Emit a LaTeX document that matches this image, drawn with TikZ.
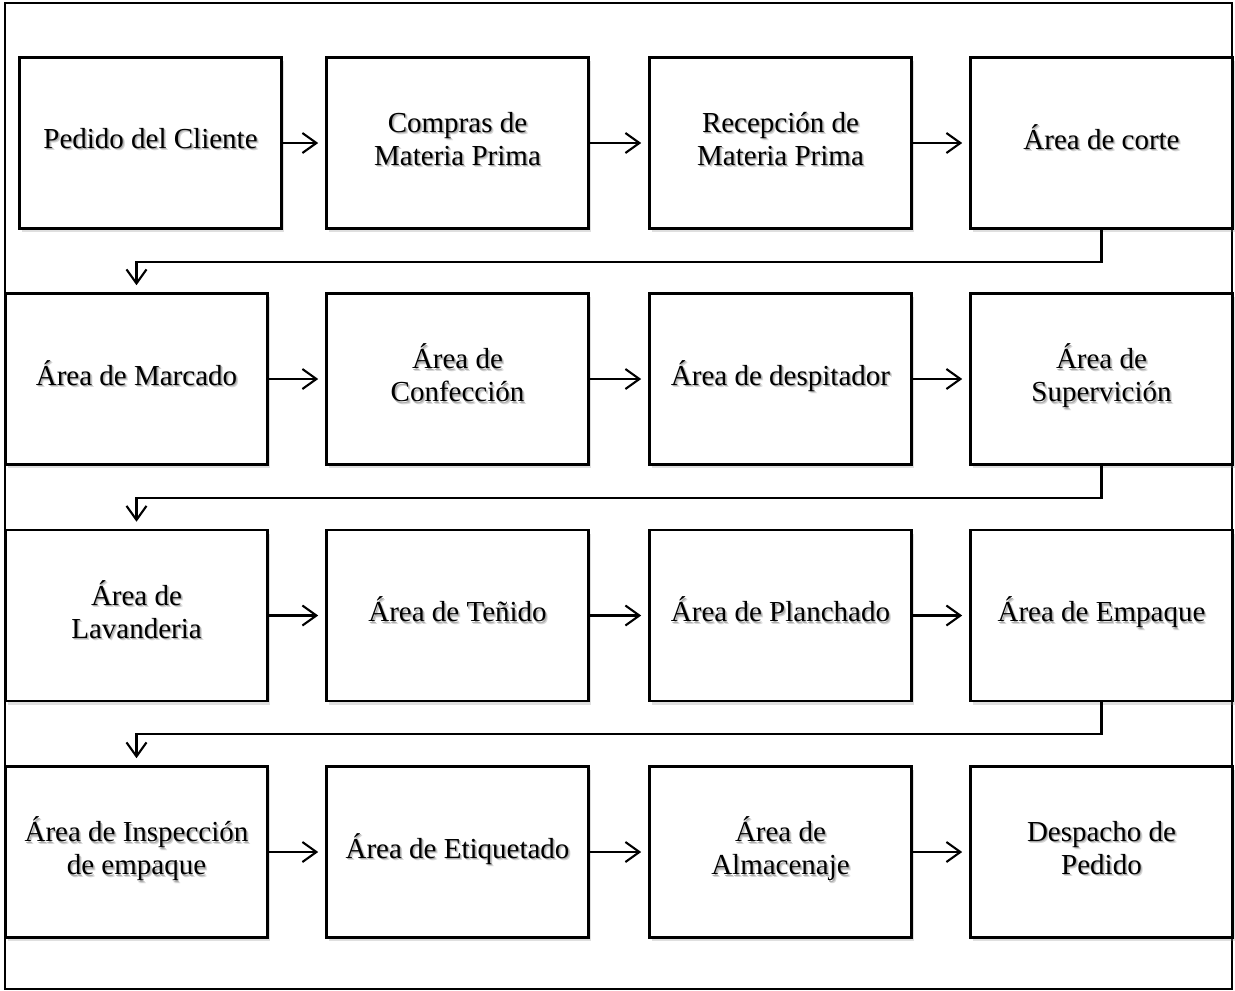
\documentclass[tikz,border=0pt]{standalone}
\usepackage{fontspec}
\setmainfont{Liberation Serif}
\usetikzlibrary{arrows.meta,shadows}
\newcommand{\tl}[1]{\begin{tabular}{@{}c@{}}#1\end{tabular}}
\newcommand{\shtxt}[1]{\rlap{\hspace{2.2pt}\raisebox{-2.2pt}{\color{black!16}\tl{#1}}}\rlap{\hspace{1.2pt}\raisebox{-1.2pt}{\color{black!32}\tl{#1}}}\tl{#1}}
\tikzset{
  stepbox/.style={draw, line width=2.6pt, fill=white, minimum width=262pt, minimum height=171pt, inner sep=0pt,
    drop shadow={shadow xshift=2.5pt, shadow yshift=-3.5pt, opacity=0.25},
    font=\fontsize{29}{33}\selectfont},
  flow/.style={line width=2.1pt, -{Straight Barb[length=14pt,width=20pt]}, shorten >=7pt}
}
\begin{document}
\begin{tikzpicture}[x=1pt,y=-1pt]
\useasboundingbox (0,0) rectangle (1235,991);
\draw[line width=2.4pt] (5,3) rectangle (1232,989);
% row 1
\node[stepbox] (a1) at (150.5,143) {\shtxt{Pedido del Cliente}};
\node[stepbox] (a2) at (457.5,143) {\shtxt{Compras de\\Materia Prima}};
\node[stepbox] (a3) at (780.5,143) {\shtxt{Recepción de\\Materia Prima}};
\node[stepbox] (a4) at (1101.5,143) {\shtxt{Área de corte}};
% row 2
\node[stepbox] (b1) at (136.5,379) {\shtxt{Área de Marcado}};
\node[stepbox] (b2) at (457.5,379) {\shtxt{Área de\\Confección}};
\node[stepbox] (b3) at (780.5,379) {\shtxt{Área de despitador}};
\node[stepbox] (b4) at (1101.5,379) {\shtxt{Área de\\Supervición}};
% row 3
\node[stepbox] (c1) at (136.5,615.5) {\shtxt{Área de\\Lavanderia}};
\node[stepbox] (c2) at (457.5,615.5) {\shtxt{Área de Teñido}};
\node[stepbox] (c3) at (780.5,615.5) {\shtxt{Área de Planchado}};
\node[stepbox] (c4) at (1101.5,615.5) {\shtxt{Área de Empaque}};
% row 4
\node[stepbox] (d1) at (136.5,852) {\shtxt{Área de Inspección\\de empaque}};
\node[stepbox] (d2) at (457.5,852) {\shtxt{Área de Etiquetado}};
\node[stepbox] (d3) at (780.5,852) {\shtxt{Área de\\Almacenaje}};
\node[stepbox] (d4) at (1101.5,852) {\shtxt{Despacho de\\Pedido}};
% horizontal arrows
\foreach \r in {a,b,c,d}{
  \draw[flow] (\r1.east) -- (\r2.west);
  \draw[flow] (\r2.east) -- (\r3.west);
  \draw[flow] (\r3.east) -- (\r4.west);
}
% row connectors
\draw[flow] (a4.south) -- ++(0,32) -| (b1.north);
\draw[flow] (b4.south) -- ++(0,32) -| (c1.north);
\draw[flow] (c4.south) -- ++(0,32) -| (d1.north);
\end{tikzpicture}
\end{document}
